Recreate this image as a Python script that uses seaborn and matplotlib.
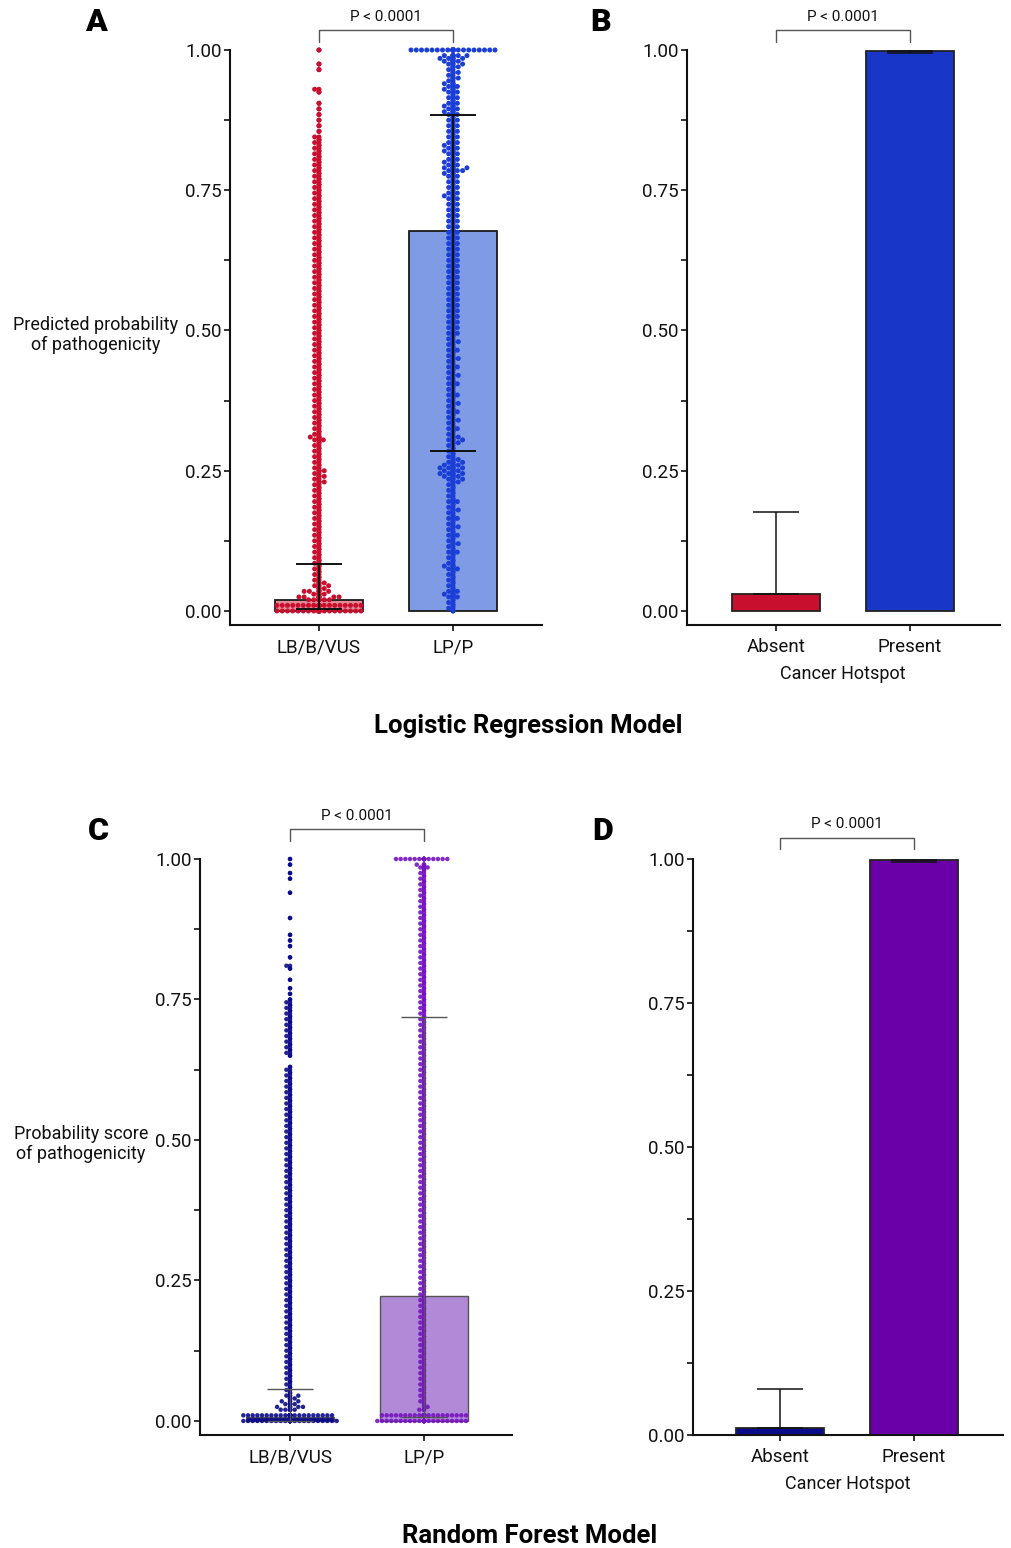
import warnings

import numpy as np
import pandas as pd
import matplotlib

matplotlib.use("Agg")
import matplotlib.pyplot as plt
from matplotlib.ticker import FormatStrFormatter
import seaborn as sns

warnings.filterwarnings("ignore")

# ---- data ----
outcome_cats = ["LB/B/VUS", "LP/P"]
hotspot_cats = ["Absent", "Present"]

# probability bins, 0.000 .. 1.000 in steps of 0.005
score_bins = np.round(np.arange(201) * 0.005, 3)

# number of dots per bin, one row per 0.1 of probability
lr_benign_counts = [
    17, 0, 17, 0, 5, 4, 3, 3, 2, 2, 2, 1, 1, 1, 1, 1, 1, 1, 1, 1,
    1, 1, 1, 1, 1, 1, 1, 1, 1, 1, 1, 1, 1, 1, 1, 1, 1, 1, 1, 1,
    1, 1, 1, 1, 1, 1, 2, 1, 2, 1, 2, 1, 1, 1, 1, 1, 1, 1, 1, 1,
    1, 2, 2, 1, 1, 1, 1, 1, 1, 1, 1, 1, 1, 1, 1, 1, 1, 1, 1, 1,
    1, 1, 1, 1, 1, 1, 1, 1, 1, 1, 1, 1, 1, 1, 1, 1, 1, 1, 1, 1,
    1, 1, 1, 1, 1, 1, 1, 1, 1, 1, 1, 1, 1, 1, 1, 1, 1, 1, 1, 1,
    1, 1, 1, 1, 1, 1, 1, 1, 1, 1, 1, 1, 1, 1, 1, 1, 1, 1, 1, 1,
    1, 1, 1, 1, 1, 1, 1, 1, 1, 1, 1, 1, 1, 1, 1, 1, 1, 1, 1, 1,
    1, 1, 1, 1, 1, 1, 1, 1, 1, 1, 0, 1, 0, 1, 0, 1, 0, 1, 0, 1,
    0, 1, 0, 0, 0, 1, 1, 0, 0, 0, 0, 0, 0, 1, 0, 1, 0, 0, 0, 0,
    1,
]
lr_path_counts = [
    1, 1, 1, 1, 1, 2, 2, 2, 1, 1, 1, 1, 1, 1, 1, 2, 2, 1, 1, 1,
    1, 2, 1, 1, 2, 1, 1, 2, 1, 1, 2, 1, 1, 2, 1, 1, 2, 1, 1, 2,
    1, 1, 1, 1, 1, 1, 2, 2, 3, 3, 3, 3, 3, 2, 2, 1, 1, 1, 1, 1,
    2, 2, 2, 1, 1, 2, 1, 1, 2, 1, 1, 2, 1, 1, 2, 1, 1, 2, 1, 1,
    1, 2, 1, 1, 2, 1, 1, 2, 1, 1, 2, 1, 1, 2, 1, 1, 2, 1, 1, 2,
    1, 2, 1, 2, 1, 2, 1, 2, 1, 2, 1, 2, 1, 2, 1, 2, 1, 2, 1, 2,
    1, 2, 1, 2, 1, 2, 1, 2, 1, 2, 1, 2, 1, 2, 1, 2, 1, 2, 1, 2,
    1, 2, 1, 2, 1, 2, 1, 2, 2, 2, 1, 2, 1, 2, 1, 2, 2, 3, 3, 2,
    2, 2, 1, 2, 2, 2, 2, 2, 1, 2, 1, 2, 1, 2, 1, 2, 1, 2, 2, 2,
    2, 2, 1, 2, 1, 2, 2, 2, 2, 1, 2, 1, 2, 1, 2, 2, 3, 3, 4, 0,
    17,
]
rf_benign_counts = [
    21, 0, 20, 0, 4, 3, 3, 2, 2, 2, 1, 1, 1, 1, 1, 1, 1, 1, 1, 1,
    1, 1, 1, 1, 1, 1, 1, 1, 1, 1, 1, 1, 1, 1, 1, 1, 1, 1, 1, 1,
    1, 1, 1, 1, 1, 1, 1, 1, 1, 1, 1, 1, 1, 1, 1, 1, 1, 1, 1, 1,
    1, 1, 1, 1, 1, 1, 1, 1, 1, 1, 1, 1, 1, 1, 1, 1, 1, 1, 1, 1,
    1, 1, 1, 1, 1, 1, 1, 1, 1, 1, 1, 1, 1, 1, 1, 1, 1, 1, 1, 1,
    1, 1, 1, 1, 1, 1, 1, 1, 1, 1, 1, 1, 1, 1, 1, 1, 1, 1, 1, 1,
    1, 1, 1, 1, 1, 1, 1, 0, 0, 0, 1, 1, 1, 1, 1, 1, 1, 1, 1, 1,
    1, 1, 1, 1, 1, 1, 1, 1, 1, 1, 1, 0, 1, 0, 1, 0, 0, 1, 0, 0,
    0, 1, 1, 0, 0, 1, 0, 0, 0, 1, 0, 1, 0, 1, 0, 0, 0, 0, 0, 1,
    0, 0, 0, 0, 0, 0, 0, 0, 1, 0, 0, 0, 0, 1, 0, 1, 0, 0, 1, 0,
    1,
]
rf_path_counts = [
    20, 0, 19, 0, 2, 1, 1, 1, 1, 1, 1, 1, 1, 1, 1, 1, 1, 1, 1, 1,
    1, 1, 1, 1, 1, 1, 1, 1, 1, 1, 1, 1, 1, 1, 1, 1, 1, 1, 1, 1,
    1, 1, 1, 1, 1, 1, 1, 1, 1, 1, 1, 1, 1, 1, 1, 1, 1, 1, 1, 1,
    1, 1, 1, 1, 1, 1, 1, 1, 1, 1, 1, 1, 1, 1, 1, 1, 1, 1, 1, 1,
    1, 1, 1, 1, 1, 1, 1, 1, 1, 1, 1, 1, 1, 1, 1, 1, 1, 1, 1, 1,
    1, 1, 1, 1, 1, 1, 1, 1, 1, 1, 1, 1, 1, 1, 1, 1, 1, 1, 1, 1,
    1, 1, 1, 1, 1, 1, 1, 1, 1, 1, 1, 1, 1, 1, 1, 1, 1, 1, 1, 1,
    1, 1, 1, 1, 1, 1, 1, 1, 1, 1, 1, 1, 1, 1, 1, 1, 1, 1, 1, 1,
    1, 1, 1, 1, 1, 1, 1, 1, 1, 1, 1, 1, 1, 1, 1, 1, 1, 1, 1, 1,
    1, 1, 1, 1, 1, 1, 1, 1, 1, 1, 1, 1, 1, 1, 1, 1, 1, 2, 2, 0,
    12,
]

# bar heights and error-bar limits
lr_bar = [0.020, 0.677]
lr_err_lo = [0.004, 0.285]
lr_err_hi = [0.084, 0.884]

lr_hot_bar = [0.030, 0.998]
lr_hot_lo = [0.030, 0.994]
lr_hot_hi = [0.176, 0.998]

rf_bar = [0.007, 0.222]
rf_err_lo = [0.000, 0.007]
rf_err_hi = [0.057, 0.719]

rf_hot_bar = [0.012, 0.999]
rf_hot_lo = [0.012, 0.995]
rf_hot_hi = [0.079, 0.999]

P_TEXT = "P < 0.0001"

# ---- style ----
sns.set_theme(style="ticks")
plt.rcParams["font.family"] = ["Roboto", "DejaVu Sans"]
plt.rcParams["axes.linewidth"] = 1.5

W, H = 1011, 1548
fig = plt.figure(figsize=(W / 100, H / 100), dpi=100)
fig.patch.set_facecolor("white")


def px_axes(left, top, right, bottom):
    return fig.add_axes([left / W, 1 - bottom / H, (right - left) / W, (bottom - top) / H])


def px_text(x, y, s, **kw):
    fig.text(x / W, 1 - y / H, s, ha="center", va="center", **kw)


def style_axes(ax, xlim, ylim):
    sns.despine(ax=ax)
    ax.set_xlim(*xlim)
    ax.set_ylim(*ylim)
    ax.set_yticks([0, 0.25, 0.5, 0.75, 1.0])
    ax.set_yticks([0.125, 0.375, 0.625, 0.875], minor=True)
    ax.yaxis.set_major_formatter(FormatStrFormatter("%.2f"))
    ax.tick_params(axis="both", which="both", length=4.5, width=1.2, color="#111111",
                   labelsize=13.5, labelcolor="#111111")
    ax.tick_params(axis="y", pad=1.5)
    ax.tick_params(axis="x", pad=5)
    for side in ["left", "bottom"]:
        ax.spines[side].set_color("#111111")
    ax.set_xlabel("")
    ax.set_ylabel("")
    ax.set_facecolor("none")


def draw_bars(ax, cats, heights, colors, edge, lw):
    sns.barplot(x=cats, y=heights, order=cats, hue=cats, palette=dict(zip(cats, colors)),
                width=0.66, edgecolor=edge, linewidth=lw, saturation=1, errorbar=None,
                legend=False, ax=ax, zorder=1)


def draw_errors(ax, heights, lo, hi, color, lw):
    yerr = [np.subtract(heights, lo), np.subtract(hi, heights)]
    ax.errorbar([0, 1], heights, yerr=yerr, fmt="none", ecolor=color, elinewidth=lw,
                capsize=16.5, capthick=lw, zorder=4, clip_on=False)


def draw_swarm(ax, cats, counts, colors, size, alpha):
    scores = [np.repeat(score_bins, c) for c in counts]
    df = pd.DataFrame({
        "group": np.repeat(cats, [len(s) for s in scores]),
        "score": np.concatenate(scores),
    })
    pal = dict(zip(cats, colors))
    # centre strip fills the dense column, the swarm spreads the crowded values
    sns.stripplot(data=df, x="group", y="score", order=cats, hue="group", palette=pal,
                  jitter=False, size=size, alpha=alpha, linewidth=0, legend=False, ax=ax,
                  zorder=3, clip_on=False)
    sns.swarmplot(data=df, x="group", y="score", order=cats, hue="group", palette=pal,
                  size=size, alpha=alpha, linewidth=0, legend=False, ax=ax, zorder=3,
                  clip_on=False)


def add_bracket(ax, y_bar, y_end, y_text):
    ax.plot([0, 0, 1, 1], [y_end, y_bar, y_bar, y_end], color="#555555", lw=1.0,
            clip_on=False)
    ax.text(0.5, y_text, P_TEXT, ha="center", va="center", fontsize=11, color="#111111",
            clip_on=False)


# ---- A: logistic regression, classification ----
ax_a = px_axes(230, 50, 542, 625)
draw_bars(ax_a, outcome_cats, lr_bar, ["#e58b96", "#7f9be6"], "#1a1a1a", 1.3)
draw_swarm(ax_a, outcome_cats, [lr_benign_counts, lr_path_counts],
           ["#c8102e", "#1a3ed6"], 3.6, 1.0)
draw_errors(ax_a, lr_bar, lr_err_lo, lr_err_hi, "#111111", 1.4)
style_axes(ax_a, (-0.664, 1.664), (-0.025, 1.0))
add_bracket(ax_a, 1.036, 1.014, 1.059)

# ---- B: logistic regression, hotspot ----
ax_b = px_axes(687, 50, 1000, 625)
draw_bars(ax_b, hotspot_cats, lr_hot_bar, ["#c8102e", "#1836c8"], "#222222", 1.3)
draw_errors(ax_b, lr_hot_bar, lr_hot_lo, lr_hot_hi, "#111111", 1.1)
style_axes(ax_b, (-0.664, 1.672), (-0.025, 1.0))
add_bracket(ax_b, 1.036, 1.014, 1.059)

# ---- C: random forest, classification ----
ax_c = px_axes(200, 859, 512, 1435)
draw_bars(ax_c, outcome_cats, rf_bar, ["#0d0d8c", "#b08ad6"], "#555555", 1.0)
draw_swarm(ax_c, outcome_cats, [rf_benign_counts, rf_path_counts],
           ["#0a0a8a", "#7612c2"], 3.2, 0.9)
draw_errors(ax_c, rf_bar, rf_err_lo, rf_err_hi, "#555555", 1.0)
style_axes(ax_c, (-0.672, 1.657), (-0.025, 1.0))
add_bracket(ax_c, 1.053, 1.032, 1.0765)

# ---- D: random forest, hotspot ----
ax_d = px_axes(693, 859, 1003, 1435)
draw_bars(ax_d, hotspot_cats, rf_hot_bar, ["#0a0a8c", "#6a00a8"], "#222222", 1.3)
draw_errors(ax_d, rf_hot_bar, rf_hot_lo, rf_hot_hi, "#111111", 1.1)
style_axes(ax_d, (-0.649, 1.664), (0.0, 1.0))
add_bracket(ax_d, 1.036, 1.017, 1.061)

# ---- labels ----
px_text(96, 335, "Predicted probability\nof pathogenicity", fontsize=13, color="#111111",
        linespacing=1.1)
px_text(81, 1144, "Probability score\nof pathogenicity", fontsize=13, color="#111111",
        linespacing=1.1)
px_text(843, 674, "Cancer Hotspot", fontsize=13, color="#111111")
px_text(848, 1484, "Cancer Hotspot", fontsize=13, color="#111111")

for x, y, letter in [(96, 22, "A"), (601, 22, "B"), (98, 831, "C"), (603, 831, "D")]:
    px_text(x, y, letter, fontsize=23, fontweight="black", color="black")

px_text(528, 726, "Logistic Regression Model", fontsize=18.5, fontweight="bold", color="black")
px_text(530, 1536, "Random Forest Model", fontsize=18.5, fontweight="bold", color="black")

fig.savefig("out.png", dpi=100, facecolor="white")
